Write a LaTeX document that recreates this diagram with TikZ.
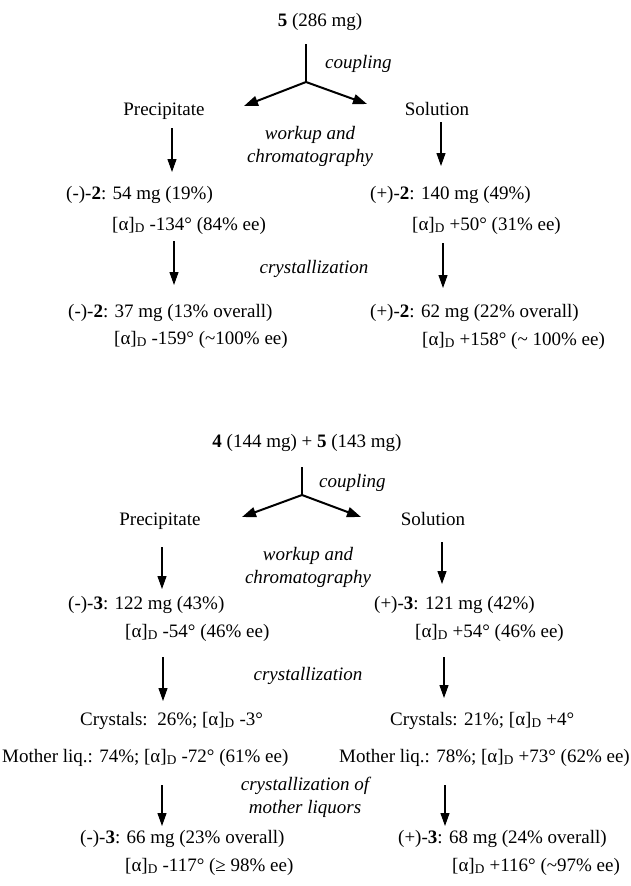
\documentclass[tikz,border=0pt]{standalone}
\usepackage{fontspec}
\setmainfont{Liberation Serif}
\usetikzlibrary{arrows.meta}
\newcommand{\aD}{[α]\textsubscript{D}}
\newcommand{\tld}{\textasciitilde}
\begin{document}
\begin{tikzpicture}[x=1pt,y=-1pt,
  txt/.style={anchor=base west, inner sep=0pt, font=\fontsize{19}{22.5}\selectfont},
  ctxt/.style={anchor=base, inner sep=0pt, font=\fontsize{19}{22.5}\selectfont},
  lbl/.style={anchor=base, inner sep=0pt, align=center, font=\fontsize{19}{22.5}\selectfont\itshape},
  llbl/.style={anchor=base west, inner sep=0pt, font=\fontsize{19}{22.5}\selectfont\itshape},
  darr/.style={line width=1.1pt, -{Triangle[length=13pt,width=9pt]}},
  barr/.style={line width=2pt, -{Triangle[length=14pt,width=10pt]}},
  stem/.style={line width=1.3pt}]
\useasboundingbox[fill=white] (0,0) rectangle (630,886);

% ---------- top scheme ----------
\node[ctxt] (t0) at (320,27) {\textbf{5} (286 mg)};
\node[llbl] (cp1) at (325,68) {coupling};
\node[ctxt] (prec1) at (164,115) {Precipitate};
\node[ctxt] (sol1) at (437,115) {Solution};
\node[lbl] (wk1) at (310,162) {workup and\\chromatography};
\node[txt] (m1L) at (66,199) {(-)-\textbf{2}: 54 mg (19\%)};
\node[txt] (a1L) at (112,230) {\aD{} -134° (84\% ee)};
\node[txt] (m1R) at (370,199) {(+)-\textbf{2}: 140 mg (49\%)};
\node[txt] (a1R) at (412,230) {\aD{} +50° (31\% ee)};
\node[lbl] (cr1) at (314,273) {crystallization};
\node[txt] (f1L) at (68,317) {(-)-\textbf{2}: 37 mg (13\% overall)};
\node[txt] (g1L) at (114,344) {\aD{} -159° (\tld100\% ee)};
\node[txt] (f1R) at (370,317) {(+)-\textbf{2}: 62 mg (22\% overall)};
\node[txt] (g1R) at (422,345) {\aD{} +158° (\tld{} 100\% ee)};

\coordinate (j1top) at (306,44);
\coordinate (j1) at (306,82);
\coordinate (j1l) at (244,106);
\coordinate (j1r) at (367,104);
\draw[stem] (j1top) -- (j1);
\draw[barr] (j1) -- (j1l);
\draw[barr] (j1) -- (j1r);

\coordinate (p1a) at (172,128); \coordinate (p1b) at (172,172);
\coordinate (s1a) at (441,122); \coordinate (s1b) at (441,166);
\coordinate (p2a) at (174,241); \coordinate (p2b) at (174,285);
\coordinate (s2a) at (443,243); \coordinate (s2b) at (443,288);
\draw[darr] (p1a) -- (p1b);
\draw[darr] (s1a) -- (s1b);
\draw[darr] (p2a) -- (p2b);
\draw[darr] (s2a) -- (s2b);

% ---------- bottom scheme ----------
\node[ctxt] (t1) at (307,447) {\textbf{4} (144 mg) + \textbf{5} (143 mg)};
\node[llbl] (cp2) at (319,487) {coupling};
\node[ctxt] (prec2) at (160,525) {Precipitate};
\node[ctxt] (sol2) at (433,525) {Solution};
\node[lbl] (wk2) at (308,583) {workup and\\chromatography};
\node[txt] (m2L) at (68,609) {(-)-\textbf{3}: 122 mg (43\%)};
\node[txt] (a2L) at (125,637) {\aD{} -54° (46\% ee)};
\node[txt] (m2R) at (374,609) {(+)-\textbf{3}: 121 mg (42\%)};
\node[txt] (a2R) at (415,637) {\aD{} +54° (46\% ee)};
\node[lbl] (cr2) at (308,680) {crystallization};
\node[txt] (c2L) at (80,725) {Crystals:\ \ 26\%; \aD{} -3°};
\node[txt] (c2R) at (390,725) {Crystals: 21\%; \aD{} +4°};
\node[txt] (ml2L) at (2,762) {Mother liq.: 74\%; \aD{} -72° (61\% ee)};
\node[txt] (ml2R) at (339,762) {Mother liq.: 78\%; \aD{} +73° (62\% ee)};
\node[lbl] (cr3) at (305,813) {crystallization of\\mother liquors};
\node[txt] (e2L) at (80,843) {(-)-\textbf{3}: 66 mg (23\% overall)};
\node[txt] (g2L) at (125,871) {\aD{} -117° (≥ 98\% ee)};
\node[txt] (e2R) at (398,843) {(+)-\textbf{3}: 68 mg (24\% overall)};
\node[txt] (g2R) at (452,871) {\aD{} +116° (\tld97\% ee)};

\coordinate (j2top) at (302,467);
\coordinate (j2) at (302,495);
\coordinate (j2l) at (242,517);
\coordinate (j2r) at (361,517);
\draw[stem] (j2top) -- (j2);
\draw[barr] (j2) -- (j2l);
\draw[barr] (j2) -- (j2r);

\coordinate (q1a) at (162,547); \coordinate (q1b) at (162,589);
\coordinate (r1a) at (442,542); \coordinate (r1b) at (442,584);
\coordinate (q2a) at (163,657); \coordinate (q2b) at (163,701);
\coordinate (r2a) at (444,657); \coordinate (r2b) at (444,698);
\coordinate (q3a) at (162,785); \coordinate (q3b) at (162,826);
\coordinate (r3a) at (445,785); \coordinate (r3b) at (445,826);
\draw[darr] (q1a) -- (q1b);
\draw[darr] (r1a) -- (r1b);
\draw[darr] (q2a) -- (q2b);
\draw[darr] (r2a) -- (r2b);
\draw[darr] (q3a) -- (q3b);
\draw[darr] (r3a) -- (r3b);
\end{tikzpicture}
\end{document}
